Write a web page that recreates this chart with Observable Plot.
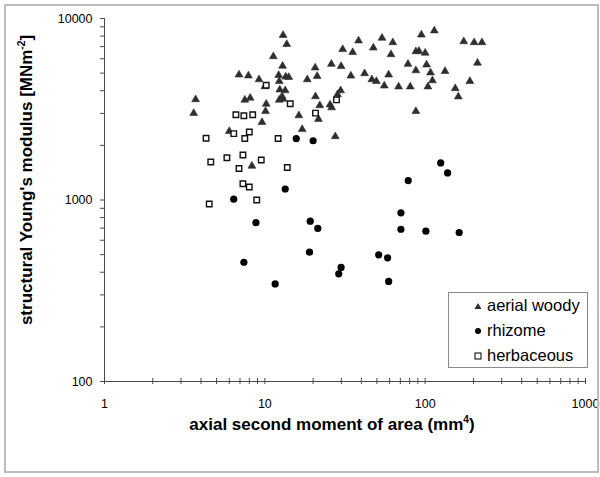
<!DOCTYPE html>
<html>
<head>
<meta charset="utf-8">
<script src="https://cdn.jsdelivr.net/npm/d3@7"></script>
<script src="https://cdn.jsdelivr.net/npm/@observablehq/plot@0.6"></script>
<style>
  body { margin: 0; background: #fff; }
  #fig { position: relative; width: 600px; height: 477px; font-family: "Liberation Sans", Arial, sans-serif; color: #000; }
  #fig > svg { position: absolute; left: 0; top: 0; }
  .outer { position: absolute; left: 4px; top: 4px; width: 591px; height: 465px; border: 2px solid #bdbdbd; pointer-events: none; }
  .xlabel { position: absolute; left: 332px; top: 425px; transform: translate(-50%, -50%); font-weight: bold; font-size: 17px; white-space: nowrap; }
  .ylabel { position: absolute; left: 27px; top: 180px; transform: translate(-50%, -50%) rotate(-90deg); font-weight: bold; font-size: 17px; white-space: nowrap; }
  .sup { font-size: 0.6em; position: relative; top: -0.65em; }
  .legend { position: absolute; left: 448px; top: 292px; width: 138px; height: 74px; border: 1px solid #8a8a8a; background: #fff; }
  .legend .row { display: flex; align-items: center; height: 25px; padding-left: 25px; font-size: 16.5px; }
  .legend .row svg { display: block; margin-right: 5px; flex: none; }
</style>
</head>
<body>
<div id="fig"></div>
<script>
// Axial second moment of area (mm^4) and structural Young's modulus (MN m^-2)
const woodyArea = [3.6, 3.7, 6.0, 6.9, 7.9, 7.5, 8.1, 8.3, 9.2, 9.6, 10.1, 10.2, 10.0, 11.3, 13.0, 13.7, 12.9, 12.2, 13.5, 14.1, 12.3, 12.4, 13.4, 12.8, 12.3, 13.0, 16.3, 17.1, 18.4, 20.6, 21.2, 20.7, 22.0, 21.6, 25.5, 26.1, 29.7, 28.4, 27.5, 26.0, 29.9, 30.6, 35.3, 38.4, 34.4, 41.9, 46.5, 49.6, 53.8, 47.5, 62.8, 61.2, 59.2, 55.6, 68.3, 80.7, 78.1, 87.5, 87.5, 91.4, 100, 94.7, 114, 102, 108, 111, 104, 133, 87.5, 154, 161, 190, 212, 174, 202, 226];
const woodyModulus = [3010, 3580, 2390, 4900, 4840, 3560, 3650, 1540, 4610, 2680, 3080, 3380, 4220, 6180, 8090, 7210, 5470, 4870, 4770, 4750, 4510, 4050, 4010, 3720, 3560, 3600, 2920, 2450, 4610, 5360, 4810, 3720, 3320, 2790, 3350, 3230, 4010, 3810, 2240, 5610, 5450, 6760, 6510, 7550, 4830, 4980, 4610, 4510, 7810, 6900, 7380, 6340, 4900, 4260, 4210, 4210, 5610, 5170, 6580, 6610, 6460, 8130, 8570, 5560, 5030, 4550, 4210, 5120, 3080, 4120, 3710, 4510, 5690, 7470, 7380, 7380];

const rhizomeArea = [15.7, 20.0, 13.4, 6.4, 8.8, 19.2, 21.4, 19.0, 7.4, 29.9, 28.9, 11.6, 125, 138, 78.4, 70.6, 70.6, 101, 163, 51.3, 58.3, 59.2];
const rhizomeModulus = [2180, 2120, 1150, 1010, 750, 764, 697, 516, 454, 425, 392, 345, 1600, 1410, 1280, 850, 690, 673, 662, 499, 480, 356];

const herbArea = [4.3, 6.4, 8.0, 7.5, 12.1, 4.6, 5.8, 7.3, 9.5, 6.9, 13.8, 7.3, 8.0, 8.9, 4.5, 6.6, 7.4, 8.4, 10.2, 14.4, 20.7, 28.0];
const herbModulus = [2190, 2320, 2370, 2180, 2180, 1620, 1710, 1770, 1660, 1490, 1510, 1230, 1180, 1000, 950, 2950, 2910, 2950, 4290, 3390, 3010, 3560];

const groups = ["aerial woody", "rhizome", "herbaceous"];
const xMajor = [1, 10, 100, 1000];
const yMajor = [100, 1000, 10000];

const minorOf = (majors) => majors.slice(0, -1).flatMap(m => d3.range(2, 10).map(k => k * m));
const xTicksAll = xMajor.concat(minorOf(xMajor));
const yTicksAll = yMajor.concat(minorOf(yMajor));

const pairs = (xs, ys) => xs.map((x, i) => ({area: x, modulus: ys[i]}));
const woody = pairs(woodyArea, woodyModulus);
const rhizome = pairs(rhizomeArea, rhizomeModulus);
const herb = pairs(herbArea, herbModulus);

const axisColor = "#4a4a4a";
const xMin = xMajor[0], yMin = yMajor[0];

const chart = Plot.plot({
  width: 600,
  height: 477,
  marginLeft: 104,
  marginRight: 15,
  marginTop: 18,
  marginBottom: 96,
  style: {fontFamily: "'Liberation Sans', Arial, sans-serif", fontSize: "12.5px", color: "#000", background: "transparent"},
  x: {type: "log", domain: [xMajor[0], xMajor[xMajor.length - 1]], axis: null},
  y: {type: "log", domain: [yMajor[0], yMajor[yMajor.length - 1]], axis: null},
  marks: [
    // axis lines
    Plot.ruleX([xMin], {stroke: axisColor, strokeWidth: 1}),
    Plot.ruleY([yMin], {stroke: axisColor, strokeWidth: 1}),
    // tick marks: left of the y axis, crossing the x axis
    Plot.ruleY(yTicksAll, {y: d => d, x1: xMin, x2: xMin, insetLeft: -4, insetRight: 0, stroke: axisColor}),
    Plot.ruleX(xTicksAll, {x: d => d, y1: yMin, y2: yMin, insetTop: -3, insetBottom: -3, stroke: axisColor}),
    // tick labels
    Plot.text(yMajor, {x: xMin, y: d => d, text: d => String(d), textAnchor: "end", dx: -12, fontSize: 12.5, fill: "#000"}),
    Plot.text(xMajor, {x: d => d, y: yMin, text: d => String(d), dy: 22, fontSize: 12.5, fill: "#000"}),
    // data
    Plot.dot(woody, {x: "area", y: "modulus", symbol: "triangle", r: 2.9, fill: "#2e2e2e", stroke: "#2e2e2e", strokeWidth: 0.6}),
    Plot.dot(herb, {x: "area", y: "modulus", symbol: "square", r: 3.1, fill: "#fff", stroke: "#111", strokeWidth: 1.4}),
    Plot.dot(rhizome, {x: "area", y: "modulus", r: 3.6, fill: "#000"})
  ]
});

const fig = document.getElementById("fig");
fig.appendChild(chart);

// axis titles with superscripts
const xl = document.createElement("div");
xl.className = "xlabel";
xl.innerHTML = 'axial second moment of area (mm<span class="sup">4</span>)';
fig.appendChild(xl);

const yl = document.createElement("div");
yl.className = "ylabel";
yl.innerHTML = 'structural Young\'s modulus [MNm<span class="sup">-2</span>]';
fig.appendChild(yl);

// legend box
const symbols = {
  "aerial woody": '<polygon points="4,1 7.5,7 0.5,7" fill="#2e2e2e"/>',
  "rhizome": '<circle cx="4" cy="4" r="3" fill="#000"/>',
  "herbaceous": '<rect x="1" y="1" width="6" height="6" fill="#fff" stroke="#111" stroke-width="1.1"/>'
};
const legend = document.createElement("div");
legend.className = "legend";
for (const g of groups) {
  const row = document.createElement("div");
  row.className = "row";
  row.innerHTML = `<svg width="8" height="8" viewBox="0 0 8 8">${symbols[g]}</svg><span>${g}</span>`;
  legend.appendChild(row);
}
fig.appendChild(legend);

const outer = document.createElement("div");
outer.className = "outer";
fig.appendChild(outer);
</script>
</body>
</html>
